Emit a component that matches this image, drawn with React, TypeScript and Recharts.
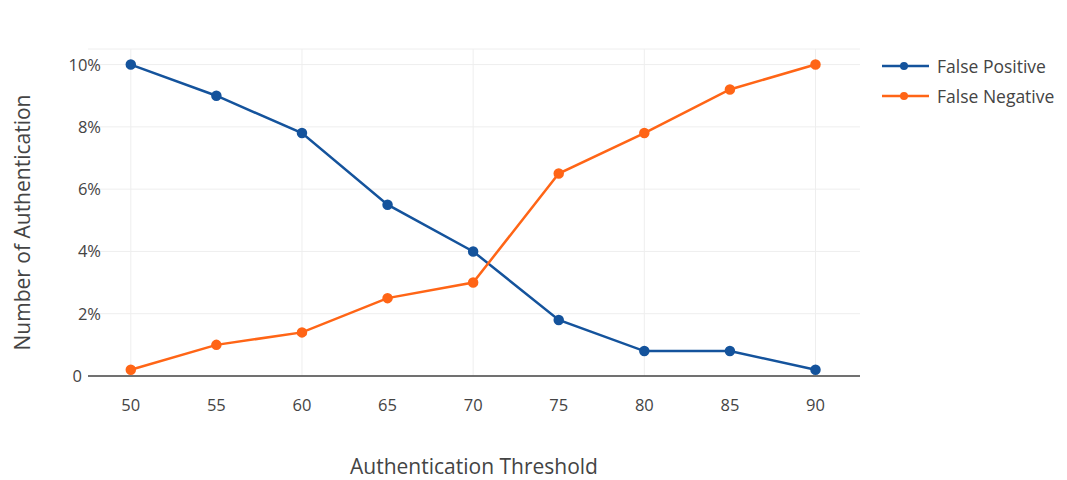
import { LineChart, Line, XAxis, YAxis, CartesianGrid, ReferenceLine } from "recharts";

const thresholds = [50, 55, 60, 65, 70, 75, 80, 85, 90];
const falsePositive = [10, 9, 7.8, 5.5, 4.0, 1.8, 0.8, 0.8, 0.2];
const falseNegative = [0.2, 1.0, 1.4, 2.5, 3.0, 6.5, 7.8, 9.2, 10];
const yTicks = [0, 2, 4, 6, 8, 10];
const gridX = [50, 60, 70, 80, 90];

const data = thresholds.map((t, i) => ({
  threshold: t,
  fp: falsePositive[i],
  fn: falseNegative[i],
}));

const font = "'Open Sans', 'Noto Sans', sans-serif";
const blue = "#14539c";
const orange = "#ff6516";

const series = [
  { key: "fp", name: "False Positive", color: blue },
  { key: "fn", name: "False Negative", color: orange },
];

function YTick(props: any) {
  const { x, y, payload } = props;
  const v = payload.value;
  const label = v === 0 ? "0" : `${v}%`;
  return (
    <text
      x={v === 0 ? x + 2 : x + 21}
      y={y}
      dy={6}
      textAnchor="end"
      fill="#444"
      fontSize={16.5}
      fontFamily={font}
    >
      {label}
    </text>
  );
}

function LegendBox() {
  return (
    <div style={{ position: "absolute", left: 882, top: 51, fontFamily: font, fontSize: 17.5, color: "#444" }}>
      {series.map((s) => (
        <div key={s.key} style={{ display: "flex", alignItems: "center", height: 30 }}>
          <svg width={47} height={12} style={{ marginRight: 8 }}>
            <line x1={0} y1={6} x2={47} y2={6} stroke={s.color} strokeWidth={2.5} />
            <circle cx={22} cy={6} r={4} fill={s.color} />
          </svg>
          <span>{s.name}</span>
        </div>
      ))}
    </div>
  );
}

export default function App() {
  return (
    <div style={{ position: "absolute", left: 0, top: 0, width: 1067, height: 480, background: "#fff" }}>
      <LineChart
        width={1067}
        height={480}
        data={data}
        margin={{ top: 49, right: 207, left: 28, bottom: 74 }}
      >
        <CartesianGrid stroke="#eeeeee" vertical={false} />
        {gridX.map((g) => (
          <ReferenceLine key={g} x={g} stroke="#eeeeee" />
        ))}
        <XAxis
          dataKey="threshold"
          type="number"
          domain={[47.5, 92.6]}
          ticks={thresholds}
          axisLine={{ stroke: "#444", strokeWidth: 1.5 }}
          tickLine={false}
          height={30}
          tick={{ fill: "#444", fontSize: 16.5, fontFamily: font, dy: 15 }}
          label={{
            value: "Authentication Threshold",
            position: "insideBottom",
            offset: -68,
            fill: "#444",
            fontSize: 21,
            fontFamily: font,
          }}
        />
        <YAxis
          type="number"
          domain={[0, 10.5]}
          ticks={yTicks}
          axisLine={false}
          tickLine={false}
          width={60}
          tick={<YTick />}
          label={{
            value: "Number of Authentication",
            angle: -90,
            position: "center",
            dx: -35,
            dy: 10,
            fill: "#444",
            fontSize: 21,
            fontFamily: font,
          }}
        />
        {series.map((s) => (
          <Line
            key={s.key}
            name={s.name}
            dataKey={s.key}
            stroke={s.color}
            strokeWidth={2.5}
            dot={{ r: 4, fill: s.color, stroke: s.color }}
            isAnimationActive={false}
          />
        ))}
      </LineChart>
      <LegendBox />
    </div>
  );
}
